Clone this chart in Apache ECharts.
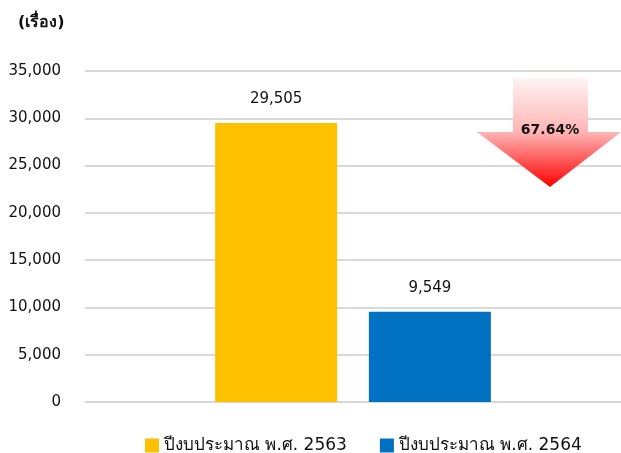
<!DOCTYPE html>
<html>
<head>
<meta charset="utf-8">
<script src="https://cdn.jsdelivr.net/npm/echarts@6/dist/echarts.min.js"></script>
<style>
html, body { margin: 0; padding: 0; background: #fff; }
#main { width: 621px; height: 453px; }
</style>
</head>
<body>
<div id="main"></div>
<script>
// ข้อมูลกราฟ
var seriesNames = ['ปีงบประมาณ พ.ศ. 2563', 'ปีงบประมาณ พ.ศ. 2564'];
var seriesValues = [29505, 9549];
var seriesColors = ['#ffc000', '#0070c0'];
var yTicks = [0, 5000, 10000, 15000, 20000, 25000, 30000, 35000];
var unitLabel = '(เรื่อง)';
var changeLabel = '67.64%';

var fontFam = 'Tahoma, "DejaVu Sans", "Noto Sans", sans-serif';
var myChart = echarts.init(document.getElementById('main'));

var series = [];
for (var i = 0; i < seriesNames.length; i++) {
	series.push({
		name: seriesNames[i],
		type: 'bar',
		barWidth: 122,
		barGap: '26%',
		data: [seriesValues[i]],
		itemStyle: { color: seriesColors[i] },
		label: {
			show: true,
			position: 'top',
			distance: 16,
			color: '#111',
			fontSize: 15,
			fontFamily: fontFam,
			formatter: function(p) { return p.value.toLocaleString('en-US'); }
		}
	});
}

var option = {
	animation: false,
	grid: { left: 85, right: -8, top: 71, bottom: 51, containLabel: false },
	xAxis: {
		type: 'category',
		data: [''],
		axisLine: { show: false },
		axisTick: { show: false },
		axisLabel: { show: false }
	},
	yAxis: {
		type: 'value',
		min: yTicks[0],
		max: yTicks[yTicks.length - 1],
		interval: 5000,
		axisLine: { show: false },
		axisTick: { show: false },
		axisLabel: {
			margin: 24,
			color: '#111',
			fontSize: 15,
			fontFamily: fontFam,
			formatter: function(v) { return v.toLocaleString('en-US'); }
		},
		splitLine: { lineStyle: { color: '#d9d9d9', width: 2 } }
	},
	legend: {
		top: 432,
		left: 140,
		itemWidth: 14,
		itemHeight: 14,
		itemGap: 33,
		icon: 'rect',
		textStyle: { fontSize: 17, color: '#111', fontFamily: fontFam },
		data: seriesNames
	},
	graphic: [
		{
			type: 'text',
			left: 18,
			top: 15,
			z: 100,
			style: { text: unitLabel, fill: '#111', font: 'bold 16px ' + fontFam }
		},
		{
			// ลูกศรลดลง
			type: 'polygon',
			z: 100,
			shape: { points: [[513, 78], [588, 78], [588, 132], [621, 132], [550, 187], [477, 132], [513, 132]] },
			style: {
				fill: new echarts.graphic.LinearGradient(0, 0, 0, 1, [
					{ offset: 0, color: '#fff4f4' },
					{ offset: 0.5, color: '#ffb4b4' },
					{ offset: 1, color: '#ff0000' }
				])
			}
		},
		{
			type: 'text',
			x: 550,
			y: 130,
			z: 101,
			style: { text: changeLabel, font: 'bold 14px ' + fontFam, fill: '#111', textAlign: 'center', textVerticalAlign: 'middle' }
		}
	],
	series: series
};
myChart.setOption(option);
</script>
</body>
</html>
